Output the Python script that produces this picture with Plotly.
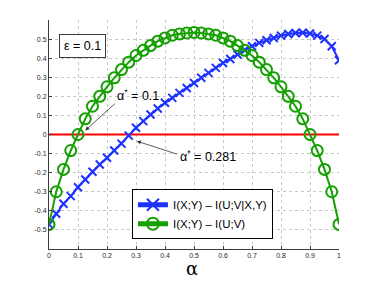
import plotly.graph_objects as go

alpha = [i * 0.025 for i in range(41)]

# I(X;Y) - I(U;V|X,Y)
blue_vals = [-0.471, -0.415, -0.363, -0.323, -0.276, -0.236, -0.195, -0.157, -0.122, -0.084,
             -0.048, -0.006, 0.035, 0.070, 0.105, 0.136, 0.166, 0.192, 0.218, 0.244,
             0.270, 0.297, 0.323, 0.349, 0.375, 0.396, 0.419, 0.443, 0.462, 0.480,
             0.494, 0.506, 0.518, 0.527, 0.532, 0.533, 0.529, 0.518, 0.500, 0.462, 0.389]

# I(X;Y) - I(U;V)
green_vals = [-0.471, -0.300, -0.183, -0.084, 0.000, 0.082, 0.148, 0.200, 0.250, 0.297,
              0.340, 0.379, 0.414, 0.441, 0.466, 0.489, 0.506, 0.520, 0.527, 0.532,
              0.535, 0.532, 0.527, 0.520, 0.506, 0.489, 0.466, 0.441, 0.414, 0.379,
              0.340, 0.297, 0.250, 0.200, 0.148, 0.082, 0.000, -0.084, -0.183, -0.300, -0.471]

zero_x = [0, 1]
zero_y = [0, 0]

x_ticks = [0, 0.1, 0.2, 0.3, 0.4, 0.5, 0.6, 0.7, 0.8, 0.9, 1]
x_labels = ["0", "0.1", "0.2", "0.3", "0.4", "0.5", "0.6", "0.7", "0.8", "0.9", "1"]
y_ticks = [-0.5, -0.4, -0.3, -0.2, -0.1, 0, 0.1, 0.2, 0.3, 0.4, 0.5]
y_labels = ["-0.5", "-0.4", "-0.3", "-0.2", "-0.1", "0", "0.1", "0.2", "0.3", "0.4", "0.5"]

BLUE = "rgb(30,50,255)"
GREEN = "rgb(20,160,0)"
FONT = "Liberation Sans, Arial, sans-serif"

fig = go.Figure()
fig.add_trace(go.Scatter(x=zero_x, y=zero_y, mode="lines",
                         line=dict(color="rgb(255,0,0)", width=2.2), showlegend=False))
fig.add_trace(go.Scatter(x=alpha, y=blue_vals, mode="lines+markers",
                         name="I(X;Y) \u2013 I(U;V|X,Y)",
                         line=dict(color=BLUE, width=2),
                         marker=dict(symbol="x-thin-open", size=8, color=BLUE,
                                     line=dict(color=BLUE, width=2))))
fig.add_trace(go.Scatter(x=alpha, y=green_vals, mode="lines+markers",
                         name="I(X;Y) \u2013 I(U;V)",
                         line=dict(color=GREEN, width=2),
                         marker=dict(symbol="circle-open", size=11, color=GREEN,
                                     line=dict(color=GREEN, width=2))))

axis_common = dict(showgrid=True, gridcolor="rgb(200,200,200)", griddash="dot", gridwidth=1,
                   zeroline=False, showline=True, linecolor="rgb(60,60,60)", linewidth=1,
                   ticks="inside", ticklen=3, tickcolor="rgb(60,60,60)",
                   tickfont=dict(size=7, color="rgb(40,40,40)", family=FONT))

# page body has an 8px default margin, so the figure is 8px smaller on each axis
fig.update_layout(
    width=366, height=273,
    margin=dict(l=40.7, r=35.3, t=12.4, b=32),
    paper_bgcolor="white", plot_bgcolor="white",
    font=dict(family=FONT, color="black"),
    xaxis=dict(range=[0, 1], tickvals=x_ticks, ticktext=x_labels, **axis_common),
    yaxis=dict(range=[-0.6, 0.6], tickvals=y_ticks, ticktext=y_labels, **axis_common),
    legend=dict(x=0.286, y=0.261, xanchor="left", yanchor="top",
                bgcolor="white", bordercolor="black", borderwidth=1,
                font=dict(size=11.5, family=FONT), tracegroupgap=0,
                itemsizing="constant"),
    showlegend=True,
)

# x-axis label
fig.add_annotation(text="\u03b1", xref="paper", yref="paper", x=0.494, y=-0.086,
                   xanchor="center", yanchor="middle", showarrow=False,
                   font=dict(size=18, family="DejaVu Serif, serif"))

# epsilon box
fig.add_annotation(text="\u03b5 = 0.1", x=0.115, y=0.462, showarrow=False,
                   bordercolor="rgb(60,60,60)", borderwidth=1, borderpad=4,
                   bgcolor="white", font=dict(size=12.5, family=FONT))

# alpha* annotations
fig.add_annotation(text="\u03b1<sup>*</sup> = 0.1", x=0.229, y=0.205, xanchor="left",
                   showarrow=False, font=dict(size=12.5, family=FONT))
fig.add_annotation(text="", x=0.125, y=0.021, ax=0.232, ay=0.168,
                   xref="x", yref="y", axref="x", ayref="y",
                   showarrow=True, arrowhead=2, arrowsize=1, arrowwidth=0.8,
                   arrowcolor="rgb(50,50,50)")
fig.add_annotation(text="\u03b1<sup>*</sup> = 0.281", x=0.446, y=-0.112, xanchor="left",
                   showarrow=False, font=dict(size=12.5, family=FONT))
fig.add_annotation(text="", x=0.303, y=-0.035, ax=0.446, ay=-0.105,
                   xref="x", yref="y", axref="x", ayref="y",
                   showarrow=True, arrowhead=2, arrowsize=1, arrowwidth=0.8,
                   arrowcolor="rgb(50,50,50)")

fig.write_html("out.html")
